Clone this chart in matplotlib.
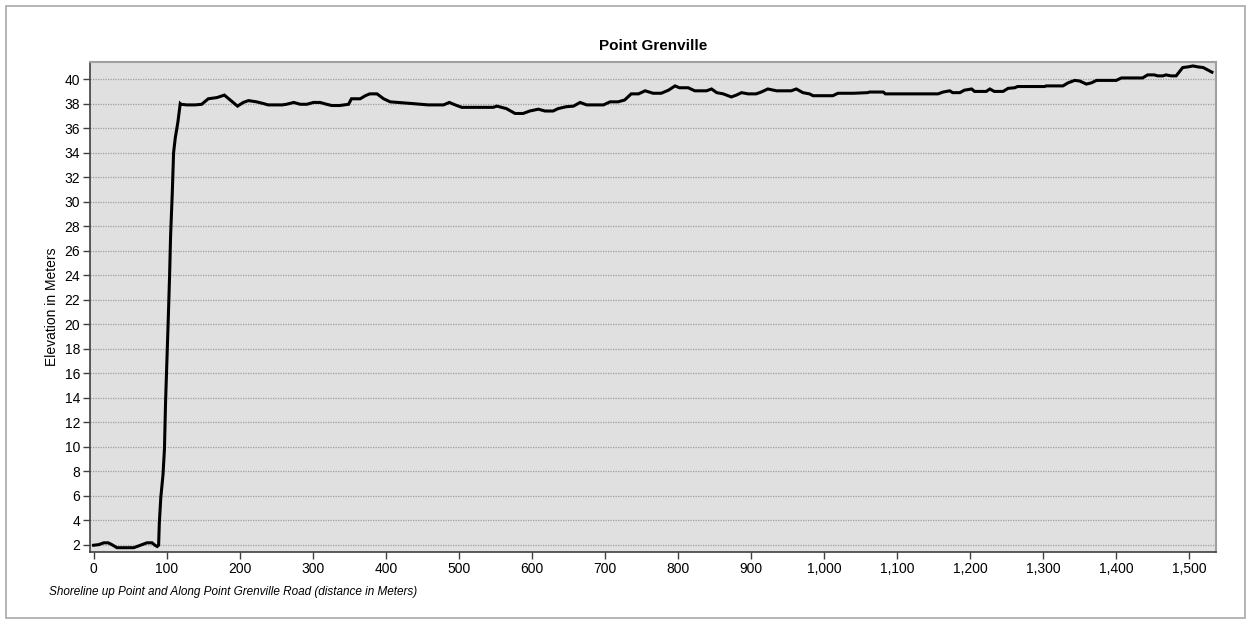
import matplotlib
matplotlib.use("Agg")
import matplotlib.pyplot as plt
import matplotlib.patches as patches
from matplotlib.ticker import FuncFormatter, MultipleLocator

# distancia (m) e elevacao (m)
distancia = [0, 7, 14, 20, 25, 32, 55, 64, 73, 80, 84, 87, 89,
             90, 92, 95, 97, 98.5, 100.4, 102.2, 104, 105.4, 107.7, 109.5, 111.8, 115.4, 118.6,
             119.5, 127.7, 139, 148, 157, 169, 179, 187, 197, 205, 212, 223, 233, 239,
             258, 264, 274, 283, 292, 301, 310, 319, 326, 337, 349, 353, 365, 372, 378,
             388, 397, 406, 417, 438, 458, 479, 487, 495, 504, 515, 547, 552, 565, 577,
             588, 597, 609, 618, 629, 636, 647, 657, 666, 675, 680,
             698, 707, 718, 727, 736, 746, 755, 766, 777, 787, 796, 802, 814, 823, 839,
             846, 853, 862, 873, 880, 887, 896, 907, 914, 923, 935, 955, 962, 971, 980,
             985, 999, 1012, 1019, 1040, 1060, 1062, 1081, 1084, 1113, 1156, 1163, 1172,
             1176, 1186, 1192, 1202, 1206, 1222, 1227, 1233, 1245, 1252, 1261, 1265, 1281,
             1302, 1304, 1327, 1334, 1343, 1350, 1359, 1366, 1373, 1400, 1407, 1436, 1443,
             1452, 1457, 1464, 1468, 1475, 1482, 1491, 1498, 1505, 1512, 1519, 1525, 1531]
elevacao = [1.95, 2.0, 2.15, 2.15, 2.0, 1.75, 1.75, 1.95, 2.15, 2.15, 1.95, 1.85, 1.95,
            3.8, 5.85, 7.7, 9.8, 13.6, 17.0, 20.4, 23.9, 27.2, 30.7, 34.0, 35.2, 36.5, 38.0,
            37.95, 37.9, 37.9, 37.95, 38.4, 38.5, 38.7, 38.3, 37.8, 38.1, 38.25, 38.15, 38.0, 37.9,
            37.9, 37.95, 38.1, 37.95, 37.95, 38.1, 38.1, 37.95, 37.85, 37.85, 37.95, 38.4, 38.4, 38.65, 38.8,
            38.8, 38.4, 38.15, 38.1, 38.0, 37.9, 37.9, 38.1, 37.9, 37.7, 37.7, 37.7, 37.8, 37.6, 37.2,
            37.2, 37.4, 37.55, 37.4, 37.4, 37.6, 37.75, 37.8, 38.1, 37.9, 37.9,
            37.9, 38.15, 38.15, 38.3, 38.8, 38.8, 39.05, 38.85, 38.85, 39.1, 39.45, 39.3, 39.3, 39.05, 39.05,
            39.2, 38.9, 38.8, 38.55, 38.7, 38.9, 38.8, 38.8, 38.95, 39.2, 39.05, 39.05, 39.2, 38.9, 38.8,
            38.65, 38.65, 38.65, 38.85, 38.85, 38.9, 38.95, 38.95, 38.8, 38.8, 38.8, 38.95, 39.05,
            38.9, 38.9, 39.1, 39.2, 39.0, 39.0, 39.2, 39.0, 39.0, 39.25, 39.3, 39.4, 39.4,
            39.4, 39.45, 39.45, 39.7, 39.9, 39.85, 39.6, 39.7, 39.9, 39.9, 40.1, 40.1, 40.35,
            40.35, 40.27, 40.27, 40.35, 40.27, 40.27, 40.95, 41.0, 41.08, 41.0, 40.95, 40.76, 40.57]

titulo = "Point Grenville"
rotulo_x = "Shoreline up Point and Along Point Grenville Road (distance in Meters)"
rotulo_y = "Elevation in Meters"

plt.rcParams['font.family'] = ['Liberation Sans', 'DejaVu Sans']

fig = plt.figure(figsize=(12.51, 6.24), dpi=100)
ax = fig.add_axes([0.0719, 0.1154, 0.8998, 0.7852])

# moldura externa
fig.patches.append(patches.Rectangle((6 / 1251, 6 / 624), 1239 / 1251, 612 / 624,
                                     transform=fig.transFigure, fill=False,
                                     edgecolor='#a8a8a8', linewidth=1.2))

ax.set_facecolor('#e0e0e0')
ax.plot(distancia, elevacao, color='black', linewidth=2.2, solid_joinstyle='miter')

ax.set_xlim(-5, 1536)
ax.set_ylim(1.4, 41.4)
ax.xaxis.set_major_locator(MultipleLocator(100))
ax.yaxis.set_major_locator(MultipleLocator(2))
ax.xaxis.set_major_formatter(FuncFormatter(lambda v, p: f"{int(v):,}"))
ax.set_yticks(range(2, 41, 2))
ax.grid(True, axis='y', linestyle=(0, (1, 1)), color='#a0a0a0', linewidth=0.9)
ax.set_axisbelow(True)

for lado in ['top', 'right']:
    ax.spines[lado].set_color('#a0a0a0')
    ax.spines[lado].set_linewidth(1.5)
for lado in ['left', 'bottom']:
    ax.spines[lado].set_color('#404040')
    ax.spines[lado].set_linewidth(1.2)
ax.tick_params(axis='both', direction='out', length=5, width=1, color='#404040',
               labelsize=10, pad=2)

ax.set_title(titulo, fontsize=11, fontweight='bold', pad=9)
ax.set_ylabel(rotulo_y, fontsize=10, labelpad=4)
fig.text(49 / 1251, 1 - 592 / 624, rotulo_x, fontsize=8.5, style='italic',
         ha='left', va='center')

fig.savefig("out.png", dpi=100)
